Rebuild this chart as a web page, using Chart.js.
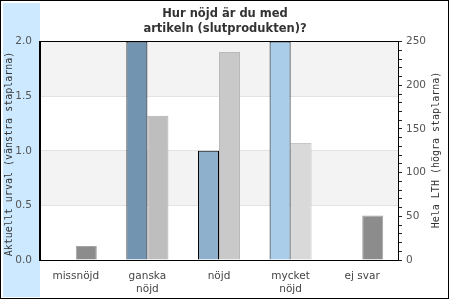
<!DOCTYPE html>
<html>
<head>
<meta charset="utf-8">
<script src="https://cdn.jsdelivr.net/npm/chart.js@4"></script>
<style>
  html, body { margin: 0; padding: 0; background: #fff; }
  canvas { display: block; }
</style>
</head>
<body>
<canvas id="chart" width="450" height="300"></canvas>
<script>
const categories = ["missnöjd", ["ganska", "nöjd"], "nöjd", ["mycket", "nöjd"], "ej svar"];
const urvalValues = [0, 2, 1, 2, 0];
const lthValues = [16, 165, 238, 134, 51];

const urvalColors = ["#7394b0", "#7394b0", "#8eb0cc", "#aacdea", "#8eb0cc"];
const lthColors = ["#8c8c8c", "#bebebe", "#c9c9c9", "#d9d9d9", "#8c8c8c"];
const lthBorders = ["#a4a4a4", "#aeaeae", "#b9b9b9", "#c6c6c6", "#a4a4a4"];

const titleLines = ["Hur nöjd är du med", "artikeln (slutprodukten)?"];
const leftTitle = "Aktuellt urval (vänstra staplarna)";
const rightTitle = "Hela LTH (högra staplarna)";

const font = "DejaVu Sans";

// frame, blue strip, shaded bands, axis titles
const decor = {
    id: "decor",
    beforeDraw(chart) {
        const ctx = chart.ctx;
        const area = chart.chartArea;
        const y = chart.scales.y;
        ctx.save();
        ctx.fillStyle = "#fff";
        ctx.fillRect(0, 0, chart.width, chart.height);
        ctx.fillStyle = "#cce9ff";
        ctx.fillRect(3, 3, 37, 294);
        ctx.strokeStyle = "#000";
        ctx.lineWidth = 1;
        ctx.strokeRect(0.5, 0.5, 448, 298);

        ctx.fillStyle = "#fff";
        ctx.fillRect(area.left, area.top, area.right - area.left, area.bottom - area.top);
        ctx.fillStyle = "#f3f3f3";
        [[0.5, 1], [1.5, 2]].forEach(([a, b]) => {
            const top = y.getPixelForValue(b);
            const bottom = y.getPixelForValue(a);
            ctx.fillRect(area.left, top, area.right - area.left, bottom - top);
        });

        ctx.fillStyle = "#333";
        ctx.font = "10px 'DejaVu Sans Mono'";
        ctx.textAlign = "center";
        ctx.textBaseline = "middle";
        ctx.translate(9, 154);
        ctx.rotate(-Math.PI / 2);
        ctx.fillText(leftTitle, 0, 0);
        ctx.restore();

        ctx.save();
        ctx.fillStyle = "#333";
        ctx.font = "10px 'DejaVu Sans Mono'";
        ctx.textAlign = "center";
        ctx.textBaseline = "middle";
        ctx.translate(436, 150);
        ctx.rotate(-Math.PI / 2);
        ctx.fillText(rightTitle, 0, 0);
        ctx.restore();
    },
    afterDatasetsDraw(chart) {
        const ctx = chart.ctx;
        const area = chart.chartArea;
        ctx.save();
        ctx.strokeStyle = "#000";
        ctx.lineWidth = 1;
        ctx.strokeRect(Math.round(area.left) - 0.5, Math.round(area.top) - 0.5,
            Math.round(area.right - area.left) + 1, Math.round(area.bottom - area.top) + 1);
        ctx.restore();
    },
};

new Chart(document.getElementById("chart"), {
    type: "bar",
    data: {
        labels: categories,
        datasets: [
            {
                label: leftTitle,
                data: urvalValues,
                backgroundColor: urvalColors,
                borderColor: "#000",
                borderWidth: 1,
                yAxisID: "y",
            },
            {
                label: rightTitle,
                data: lthValues,
                backgroundColor: lthColors,
                borderColor: lthBorders,
                borderWidth: 1,
                yAxisID: "y1",
            },
        ],
    },
    options: {
        responsive: false,
        animation: false,
        categoryPercentage: 0.587,
        barPercentage: 1,
        layout: { padding: 0 },
        plugins: {
            legend: { display: false },
            tooltip: { enabled: false },
            title: {
                display: true,
                text: titleLines,
                color: "#333",
                font: { family: font, size: 11.5, weight: "bold", lineHeight: 1.33 },
                padding: { top: 6, bottom: 5 },
            },
        },
        scales: {
            x: {
                grid: { display: false, drawTicks: false },
                border: { color: "#000" },
                ticks: {
                    color: "#444",
                    padding: 9,
                    maxRotation: 0,
                    font: { family: font, size: 10.5, lineHeight: 1.3 },
                },
                afterFit(scale) { scale.height = 40; },
            },
            y: {
                position: "left",
                min: 0,
                max: 2,
                grid: { color: "#e3e3e3", drawTicks: false },
                border: { color: "#000" },
                ticks: {
                    stepSize: 0.5,
                    padding: 8,
                    color: "#555",
                    font: { family: font, size: 10.5 },
                    callback: (v) => v.toFixed(1),
                },
                afterFit(scale) { scale.width = 40; },
            },
            y1: {
                position: "right",
                min: 0,
                max: 250,
                grid: { drawOnChartArea: false, drawTicks: true, tickLength: 4, tickColor: "#222" },
                border: { color: "#000" },
                ticks: {
                    stepSize: 10,
                    autoSkip: false,
                    padding: 4,
                    color: "#555",
                    font: { family: font, size: 10.5 },
                    callback: (v) => (v % 50 === 0 ? String(v) : ""),
                },
                afterFit(scale) { scale.width = 52; },
            },
        },
    },
    plugins: [decor],
});
</script>
</body>
</html>
